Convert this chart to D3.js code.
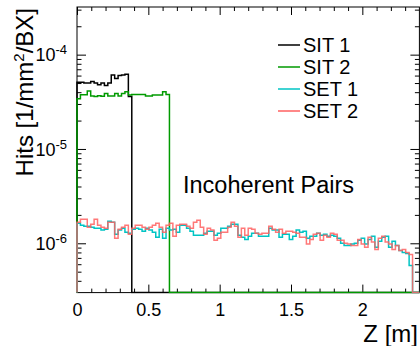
<!DOCTYPE html>
<html><head><meta charset="utf-8">
<script src="https://cdn.jsdelivr.net/npm/d3@7"></script>
<style>
html,body{margin:0;padding:0;background:#fff;}
svg{display:block;font-family:"Liberation Sans",Arial,Helvetica,sans-serif;}
</style>
</head><body>
<svg id="chart" width="420" height="346"></svg>
<script>
// ---------------- data ----------------
const seriesNames = ["SIT 1", "SIT 2", "SET 1", "SET 2"];
const seriesColors = ["#000000", "#009a00", "#00c4c4", "#ff6060"];
const xTickLabels = ["0", "0.5", "1", "1.5", "2"];
const xTickValues = [0, 0.5, 1, 1.5, 2];
const yTickExponents = [-6, -5, -4];
const zRange = [0, 2.4];
const nBins = 100;           // histogram binning over zRange
const yRange = [3e-7, 3.2e-4];
const annotation = "Incoherent Pairs";
const xTitle = "Z [m]";

// hits per mm^2 per BX, one value per bin starting at Z = 0 (bins beyond the list are empty)
const sit1 = [5.1e-5, 5.1e-5, 5.0e-5, 5.0e-5, 5.2e-5, 5.0e-5, 4.8e-5, 5.0e-5,
  4.7e-5, 5.0e-5, 6.1e-5, 5.6e-5, 6.0e-5, 6.1e-5, 6.2e-5, 3.6e-5];
const sit2 = [3.40e-5, 3.75e-5, 3.75e-5, 4.11e-5, 3.64e-5, 3.60e-5, 3.66e-5, 3.62e-5,
  3.88e-5, 3.64e-5, 3.64e-5, 3.88e-5, 3.64e-5, 3.88e-5, 4.04e-5, 3.73e-5,
  3.78e-5, 3.78e-5, 3.78e-5, 3.78e-5, 3.64e-5, 3.64e-5, 3.73e-5, 3.73e-5,
  3.73e-5, 4.04e-5, 3.78e-5];
const set1 = [1.63e-6, 1.55e-6, 1.52e-6, 1.52e-6, 1.48e-6, 1.44e-6, 1.44e-6, 1.38e-6, 1.41e-6, 1.71e-6,
  1.67e-6, 1.25e-6, 1.38e-6, 1.44e-6, 1.31e-6, 1.28e-6, 1.41e-6, 1.44e-6, 1.41e-6, 1.34e-6,
  1.44e-6, 1.38e-6, 1.31e-6, 1.16e-6, 1.41e-6, 1.13e-6, 1.44e-6, 1.38e-6, 1.41e-6, 1.31e-6,
  1.55e-6, 1.55e-6, 1.44e-6, 1.34e-6, 1.22e-6, 1.22e-6, 1.22e-6, 1.28e-6, 1.34e-6, 1.34e-6,
  1.22e-6, 1.28e-6, 1.44e-6, 1.44e-6, 1.52e-6, 1.59e-6, 1.59e-6, 1.22e-6, 1.16e-6, 1.10e-6,
  1.19e-6, 1.28e-6, 1.28e-6, 1.19e-6, 1.19e-6, 1.19e-6, 1.44e-6, 1.38e-6, 1.38e-6, 1.16e-6,
  1.25e-6, 1.25e-6, 1.10e-6, 1.19e-6, 1.38e-6, 1.31e-6, 1.34e-6, 1.13e-6, 1.19e-6, 1.19e-6,
  1.28e-6, 1.22e-6, 1.25e-6, 1.19e-6, 1.22e-6, 1.19e-6, 1.13e-6, 1.00e-6, 0.95e-6, 0.95e-6,
  0.98e-6, 1.00e-6, 1.08e-6, 1.13e-6, 0.98e-6, 1.10e-6, 1.19e-6, 0.91e-6, 1.05e-6, 1.16e-6,
  1.19e-6, 0.91e-6, 1.05e-6, 0.95e-6, 0.84e-6, 0.80e-6, 0.78e-6, 0.58e-6];
const set2 = [1.67e-6, 1.80e-6, 1.80e-6, 1.48e-6, 1.59e-6, 1.80e-6, 1.55e-6, 1.48e-6, 1.44e-6, 1.67e-6,
  1.67e-6, 1.13e-6, 1.41e-6, 1.48e-6, 1.55e-6, 1.25e-6, 1.44e-6, 1.55e-6, 1.55e-6, 1.48e-6,
  1.41e-6, 1.48e-6, 1.55e-6, 1.63e-6, 1.48e-6, 1.31e-6, 1.55e-6, 1.63e-6, 1.19e-6, 1.55e-6,
  1.59e-6, 1.59e-6, 1.52e-6, 1.44e-6, 1.67e-6, 1.76e-6, 1.48e-6, 1.25e-6, 1.44e-6, 1.38e-6,
  1.08e-6, 1.13e-6, 1.31e-6, 1.31e-6, 1.48e-6, 1.67e-6, 1.52e-6, 1.16e-6, 1.44e-6, 1.22e-6,
  1.44e-6, 1.41e-6, 1.28e-6, 1.25e-6, 1.28e-6, 1.28e-6, 1.52e-6, 1.41e-6, 1.31e-6, 1.41e-6,
  1.28e-6, 1.34e-6, 1.34e-6, 1.31e-6, 1.28e-6, 1.16e-6, 1.16e-6, 0.98e-6, 1.10e-6, 1.25e-6,
  1.28e-6, 1.08e-6, 1.22e-6, 1.16e-6, 1.28e-6, 1.25e-6, 1.08e-6, 1.08e-6, 1.00e-6, 0.98e-6,
  0.95e-6, 0.95e-6, 1.10e-6, 0.98e-6, 0.91e-6, 1.16e-6, 1.03e-6, 0.86e-6, 1.13e-6, 1.19e-6,
  1.03e-6, 0.98e-6, 0.86e-6, 0.95e-6, 0.84e-6, 0.86e-6, 0.80e-6, 0.76e-6];
const seriesValues = [sit1, sit2, set1, set2];

// ---------------- layout ----------------
const W = 420, H = 346;
const frame = {left: 77, right: 419.4, top: 7, bottom: 292.6};
const svg = d3.select("#chart");

const x = d3.scaleLinear().domain(zRange).range([frame.left, frame.right]);
const y = d3.scaleLog().domain(yRange).range([frame.bottom, frame.top]);

// frame
svg.append("rect")
  .attr("x", frame.left).attr("y", frame.top)
  .attr("width", frame.right - frame.left).attr("height", frame.bottom - frame.top)
  .attr("fill", "none").attr("stroke", "#000").attr("stroke-width", 1);

// tick values
const xMinor = d3.range(0, 24).map(i => i / 10).filter(v => Math.abs(v * 2 - Math.round(v * 2)) > 1e-6);
const yMajor = yTickExponents.map(e => Math.pow(10, e));
const yMinor = [];
for (let e = -7; e <= -4; e++) for (let m = 2; m <= 9; m++) {
  const v = m * Math.pow(10, e);
  if (v > yRange[0] * 1.001 && v < yRange[1]) yMinor.push(v);
}

function styleAxis(g) {
  g.select(".domain").remove();
  g.selectAll(".tick line").attr("stroke", "#000").attr("stroke-width", 1);
}

const fontTick = 18;
// bottom major with labels
svg.append("g").attr("transform", `translate(0,${frame.bottom})`)
  .call(d3.axisBottom(x).tickValues(xTickValues).tickSize(-8).tickPadding(11)
    .tickFormat((d, i) => xTickLabels[i]))
  .call(styleAxis)
  .call(g => g.selectAll(".tick text").attr("font-size", fontTick).attr("fill", "#000")
    .attr("font-family", "Liberation Sans, Arial, sans-serif"));
svg.append("g").attr("transform", `translate(0,${frame.bottom})`)
  .call(d3.axisBottom(x).tickValues(xMinor).tickSize(-4).tickFormat(""))
  .call(styleAxis);
// top mirrored
svg.append("g").attr("transform", `translate(0,${frame.top})`)
  .call(d3.axisTop(x).tickValues(xTickValues).tickSize(-8).tickFormat(""))
  .call(styleAxis);
svg.append("g").attr("transform", `translate(0,${frame.top})`)
  .call(d3.axisTop(x).tickValues(xMinor).tickSize(-4).tickFormat(""))
  .call(styleAxis);

// left major with 10^n labels
const gy = svg.append("g").attr("transform", `translate(${frame.left},0)`)
  .call(d3.axisLeft(y).tickValues(yMajor).tickSize(-9).tickPadding(10).tickFormat(""))
  .call(styleAxis);
gy.selectAll(".tick text").each(function (d, i) {
  const t = d3.select(this).attr("font-size", fontTick).attr("fill", "#000")
    .attr("font-family", "Liberation Sans, Arial, sans-serif").attr("dy", "0.34em");
  t.append("tspan").text("10");
  t.append("tspan").attr("font-size", 13).attr("dy", -7).text(String(yTickExponents[i]));
});
svg.append("g").attr("transform", `translate(${frame.left},0)`)
  .call(d3.axisLeft(y).tickValues(yMinor).tickSize(-4.5).tickFormat(""))
  .call(styleAxis);
// right mirrored
svg.append("g").attr("transform", `translate(${frame.right},0)`)
  .call(d3.axisRight(y).tickValues(yMajor).tickSize(-9).tickFormat(""))
  .call(styleAxis);
svg.append("g").attr("transform", `translate(${frame.right},0)`)
  .call(d3.axisRight(y).tickValues(yMinor).tickSize(-4.5).tickFormat(""))
  .call(styleAxis);

// ---------------- histograms ----------------
svg.append("clipPath").attr("id", "clip").append("rect")
  .attr("x", frame.left - 1).attr("y", frame.top)
  .attr("width", frame.right - frame.left + 2).attr("height", frame.bottom - frame.top + 1);

const binW = (zRange[1] - zRange[0]) / nBins;
const yv = v => y(v > yRange[0] ? v : yRange[0]);
const line = d3.line().x(d => x(d[0])).y(d => yv(d[1])).curve(d3.curveStepAfter);

seriesValues.forEach((vals, s) => {
  const pts = [[zRange[0], 0]];
  for (let i = 0; i < nBins; i++) pts.push([zRange[0] + i * binW, i < vals.length ? vals[i] : 0]);
  pts.push([zRange[1], nBins - 1 < vals.length ? vals[nBins - 1] : 0]);
  pts.push([zRange[1], 0]);
  svg.append("path").attr("clip-path", "url(#clip)")
    .attr("d", line(pts))
    .attr("fill", "none")
    .attr("stroke", seriesColors[s])
    .attr("stroke-width", 1.5)
    .attr("stroke-opacity", s === 3 ? 0.85 : 1)
    .attr("stroke-linejoin", "miter");
});

// ---------------- legend ----------------
const legend = svg.append("g");
seriesNames.forEach((name, i) => {
  const ly = 45 + i * 22;
  legend.append("line").attr("x1", 278).attr("x2", 300).attr("y1", ly).attr("y2", ly)
    .attr("stroke", seriesColors[i]).attr("stroke-width", 1.5);
  legend.append("text").attr("x", 303).attr("y", ly + 7).attr("font-size", 20)
    .attr("fill", "#000").text(name);
});

// ---------------- texts ----------------
svg.append("text").attr("x", 183).attr("y", 193).attr("font-size", 23.5).attr("fill", "#000")
  .text(annotation);

svg.append("text").attr("x", 418).attr("y", 342).attr("text-anchor", "end")
  .attr("font-size", 24).attr("fill", "#000").text(xTitle);

const yt = svg.append("text").attr("transform", "translate(33,8) rotate(-90)")
  .attr("text-anchor", "end").attr("font-size", 24).attr("fill", "#000");
yt.append("tspan").text("Hits [1/mm");
yt.append("tspan").attr("font-size", 15).attr("dy", -9).text("2");
yt.append("tspan").attr("dy", 9).text("/BX]");
</script>
</body></html>
